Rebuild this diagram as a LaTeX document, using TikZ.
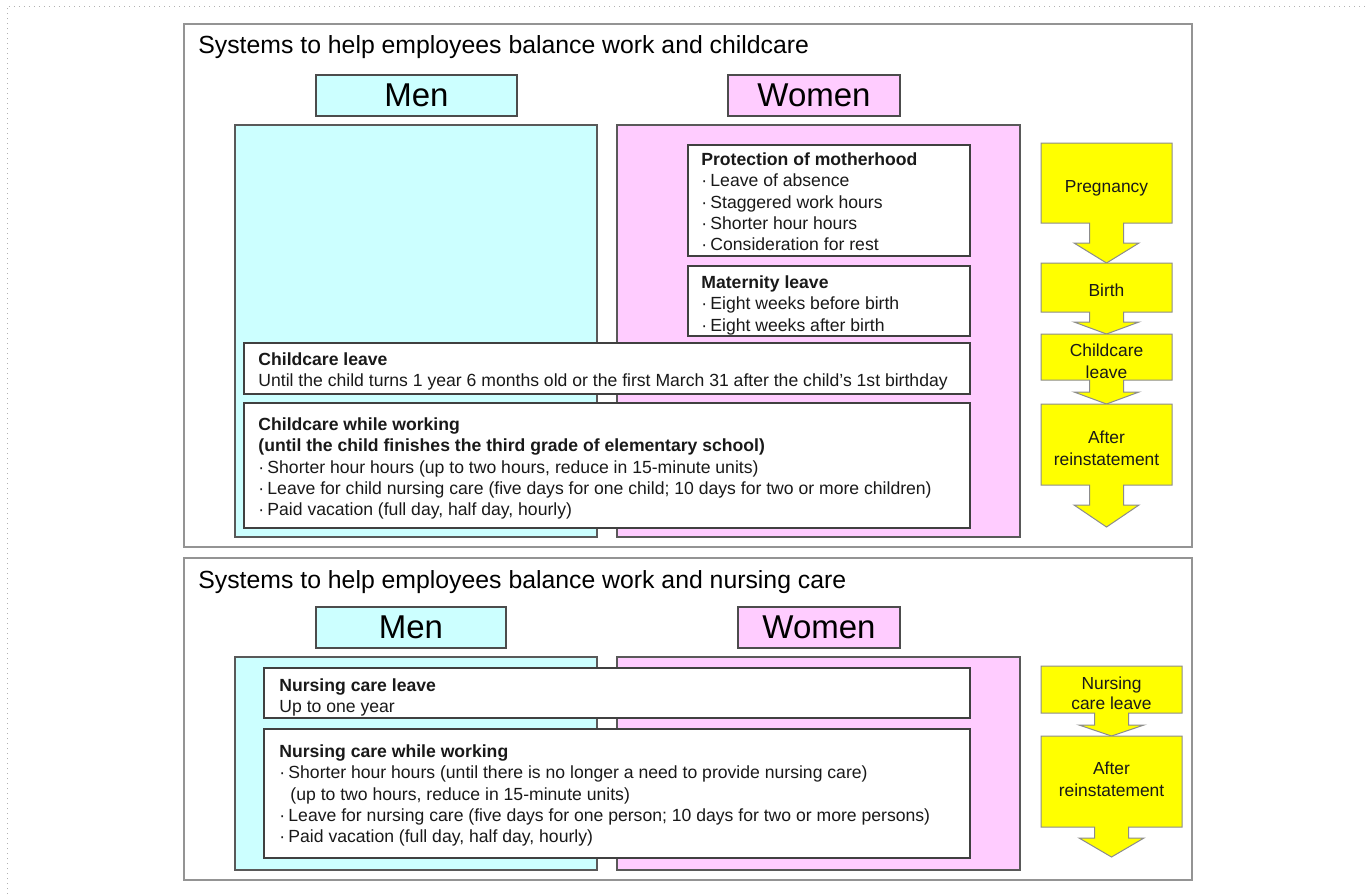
\documentclass[tikz,border=0pt]{standalone}
\usepackage{fontspec}
\setmainfont{Liberation Sans}
\usetikzlibrary{shadows}
\definecolor{mcyan}{HTML}{CCFFFF}
\definecolor{mpink}{HTML}{FFCCFF}
\definecolor{myel}{HTML}{FFFF00}
\newcommand\bul{\textperiodcentered\hspace{1.6pt}}
\newcommand\boxnode[7]{%
  \node[#2, anchor=north west, inner sep=0pt, outer sep=0pt,
        minimum width={(#5-#3)*0.5pt}, minimum height={(#6-#4)*0.5pt}] (#1) at (#3,#4) {#7};}
\newcommand\yarrow[7]{% name, cx, top, rectbottom, shaftbottom, tip, halfwidth
  \path[yarr] ({#2-#7},#3) -- ({#2+#7},#3) -- ({#2+#7},#4) -- ({#2+17},#4) -- ({#2+17},#5)
    -- ({#2+32.5},#5) -- (#2,#6) coordinate (#1) -- ({#2-32.5},#5) -- ({#2-17},#5) -- ({#2-17},#4)
    -- ({#2-#7},#4) -- cycle;}
\tikzset{
  frame/.style={draw=black!42, line width=1.1pt, fill=white},
  hdr/.style={draw=black!70, line width=0.6pt, font=\fontsize{16.5}{19}\selectfont,
     drop shadow={shadow xshift=0.7pt, shadow yshift=-0.7pt, opacity=0.25}},
  colm/.style={draw=black!65, line width=0.6pt,
     drop shadow={shadow xshift=0.7pt, shadow yshift=-0.7pt, opacity=0.25}},
  wbox/.style={draw=black!75, fill=white, line width=0.6pt,
     drop shadow={shadow xshift=0.7pt, shadow yshift=-0.7pt, opacity=0.25}},
  body/.style={font=\fontsize{8.8}{10.6}\selectfont, align=left, inner sep=0pt, anchor=north west, text=black!90},
  ttl/.style={font=\fontsize{12.4}{14}\selectfont, inner sep=0pt, anchor=base west},
  atext/.style={font=\fontsize{8.7}{11}\selectfont, align=center, inner sep=0pt, anchor=north, text=black!90},
  yarr/.style={draw=black!45, fill=myel, line width=0.5pt},
}
\begin{document}
\begin{tikzpicture}[x=0.5pt, y=-0.5pt]
\useasboundingbox (0,0) rectangle (1365,894);
\fill[white] (0,0) rectangle (1365,894);
\draw[dotted, black!30, line width=0.5pt] (7,894) -- (7,6) -- (1365,6);

% ---------- Section 1: childcare ----------
\boxnode{frameA}{frame}{184}{24}{1192}{547}{}
\node[ttl] (titleA) at (198,53) {Systems to help employees balance work and childcare};
\boxnode{menA}{hdr, fill=mcyan}{316}{75}{517}{116}{Men}
\boxnode{womenA}{hdr, fill=mpink}{728}{75}{900}{116}{Women}
\boxnode{mencolA}{colm, fill=mcyan}{235}{125}{597}{537}{}
\boxnode{womencolA}{colm, fill=mpink}{617}{125}{1020}{537}{}

\boxnode{protbox}{wbox}{688}{145}{970}{256}{}
\node[body] (prottext) at (701,152.5) {\textbf{Protection of motherhood}\\
\bul Leave of absence\\ \bul Staggered work hours\\ \bul Shorter hour hours\\ \bul Consideration for rest};

\boxnode{matbox}{wbox}{688}{266}{970}{336}{}
\node[body] (mattext) at (701,275.5) {\textbf{Maternity leave}\\
\bul Eight weeks before birth\\ \bul Eight weeks after birth};

\boxnode{clbox}{wbox}{244}{343}{970}{394}{}
\node[body] (cltext) at (258,352.5) {\textbf{Childcare leave}\\
Until the child turns 1 year 6 months old or the first March 31 after the child’s 1st birthday};

\boxnode{cwbox}{wbox}{244}{403}{970}{528}{}
\node[body] (cwtext) at (258,417.5) {\textbf{Childcare while working}\\
\textbf{(until the child finishes the third grade of elementary school)}\\
\bul Shorter hour hours (up to two hours, reduce in 15-minute units)\\
\bul Leave for child nursing care (five days for one child; 10 days for two or more children)\\
\bul Paid vacation (full day, half day, hourly)};

\yarrow{tipA}{1106.5}{143}{223}{243}{263}{65.5}
\yarrow{tipB}{1106.5}{263}{312}{322}{334}{65.5}
\yarrow{tipC}{1106.5}{334}{380}{392}{404}{65.5}
\yarrow{tipD}{1106.5}{404}{485}{505}{527}{65.5}
\node[atext] (preg) at (1106.5,179.7) {Pregnancy};
\node[atext] (birth) at (1106.5,283.7) {Birth};
\node[atext] (cleave) at (1106.5,343.7) {Childcare\\leave};
\node[atext] (afterA) at (1106.5,430.7) {After\\reinstatement};

% ---------- Section 2: nursing care ----------
\boxnode{frameB}{frame}{184}{558}{1192}{880}{}
\node[ttl] (titleB) at (198,588) {Systems to help employees balance work and nursing care};
\boxnode{menB}{hdr, fill=mcyan}{316}{607}{506}{648}{Men}
\boxnode{womenB}{hdr, fill=mpink}{738}{607}{900}{648}{Women}
\boxnode{mencolB}{colm, fill=mcyan}{235}{657}{597}{870}{}
\boxnode{womencolB}{colm, fill=mpink}{617}{657}{1020}{870}{}

\boxnode{nlbox}{wbox}{264}{668}{970}{718}{}
\node[body] (nltext) at (279,678.5) {\textbf{Nursing care leave}\\ Up to one year};

\boxnode{nwbox}{wbox}{264}{729}{970}{858}{}
\node[body] (nwtext) at (279,744.5) {\textbf{Nursing care while working}\\
\bul Shorter hour hours (until there is no longer a need to provide nursing care)\\
\hphantom{\bul}\hspace{1pt}(up to two hours, reduce in 15-minute units)\\
\bul Leave for nursing care (five days for one person; 10 days for two or more persons)\\
\bul Paid vacation (full day, half day, hourly)};

\yarrow{tipE}{1111.5}{666}{713}{725}{736}{70.5}
\yarrow{tipF}{1111.5}{736}{827}{838}{857}{70.5}
\node[atext, font=\fontsize{8.7}{10}\selectfont] (nleave) at (1111.5,676.7) {Nursing\\care leave};
\node[atext] (afterB) at (1111.5,761.7) {After\\reinstatement};
\end{tikzpicture}
\end{document}
